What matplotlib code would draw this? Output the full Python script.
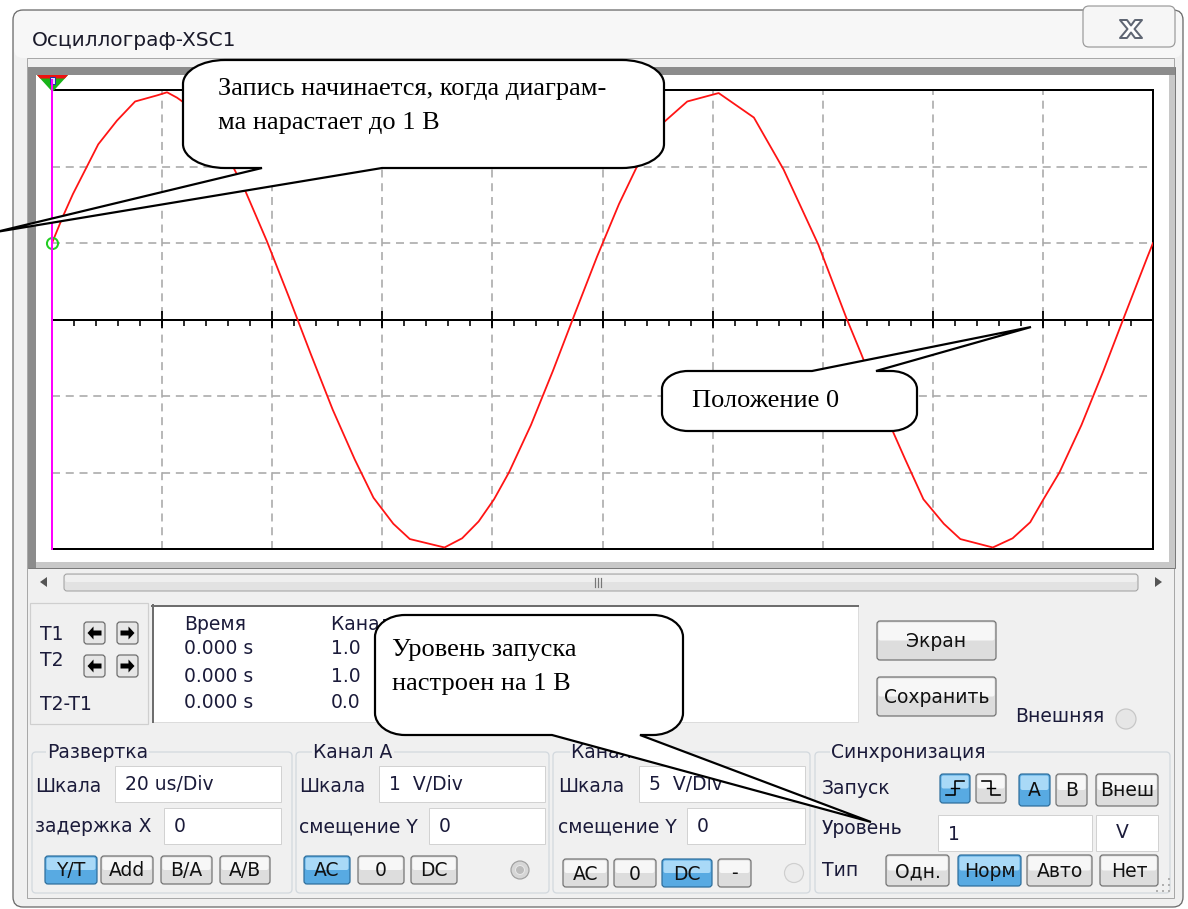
import matplotlib
matplotlib.use('Agg')
import matplotlib.pyplot as plt
from matplotlib.patches import Rectangle, FancyBboxPatch, Polygon, PathPatch, Circle
from matplotlib.path import Path
import numpy as np

plt.rcParams['font.family'] = ['DejaVu Sans']

W, H = 1188, 909
PANEL = '#f0f0f0'
TXT = '#1b1b3a'
UI_FS = 13.5
NOTE_FONT = 'Liberation Serif'

# channel A trace (time in us, voltage in V)
time_us = [0, 2, 3.8, 8.4, 11.8, 15.1, 19.1, 20.9, 22.7, 27, 31, 35, 39, 43, 47,
           51, 55, 58.4, 62, 65, 71.3, 74.5, 77.5, 80.3, 83, 87, 91, 95, 99, 103,
           107, 111, 115.4, 121.1, 127.5, 132.9, 139.2, 144.3, 147, 151, 155,
           158.3, 162, 165, 170.9, 174.5, 177.7, 180.1, 183, 187, 191, 195, 199, 200]
volts = [1.00, 1.35, 1.64, 2.29, 2.60, 2.85, 2.93, 2.97, 2.90, 2.68, 2.26, 1.70,
         1.03, 0.30, -0.45, -1.18, -1.83, -2.33, -2.67, -2.87, -2.98, -2.86, -2.64,
         -2.35, -2.00, -1.38, -0.67, 0.08, 0.82, 1.51, 2.11, 2.57, 2.85, 2.96, 2.64,
         1.96, 0.98, 0.02, -0.45, -1.18, -1.83, -2.35, -2.67, -2.87, -2.98, -2.86,
         -2.65, -2.35, -2.00, -1.38, -0.67, 0.08, 0.82, 1.00]

time_per_div = 20      # us
volt_per_div = 1       # V
n_xdiv, n_ydiv = 10, 6
trigger_level = 1.0

# cursor readout (channel A column is partly hidden behind the note)
cursor_rows = ['T1', 'T2', 'T2-T1']
readout_heads = ['Время', 'Канал A', 'Канал B']
readout_time = ['0.000 s', '0.000 s', '0.000 s']
readout_cha = ['1.0', '1.0', '0.0']

# control panel settings
timebase = '20 us/Div'
x_delay = '0'
cha_scale = '1  V/Div'
cha_offset = '0'
chb_scale = '5  V/Div'
chb_offset = '0'
trig_value = '1'
trig_unit = 'V'
mode_buttons = ['Y/T', 'Add', 'B/A', 'A/B']
cha_buttons = ['AC', '0', 'DC']
chb_buttons = ['AC', '0', 'DC', '-']
source_buttons = ['A', 'B', 'Внеш']
type_buttons = ['Одн.', 'Норм', 'Авто', 'Нет']

note_top = ['Запись начинается, когда диаграм-', 'ма нарастает до 1 В']
note_zero = 'Положение 0'
note_level = ['Уровень запуска', 'настроен на 1 В']


def lw(px):
    return px * 0.72


def box(ax, x0, y0, x1, y1, fc, ec, w=1.0, r=0, z=1):
    if r:
        p = FancyBboxPatch((x0, y0), x1 - x0, y1 - y0,
                           boxstyle=f'round,pad=0,rounding_size={r}',
                           fc=fc, ec=ec, lw=lw(w), zorder=z)
    else:
        p = Rectangle((x0, y0), x1 - x0, y1 - y0, fc=fc, ec=ec, lw=lw(w), zorder=z)
    ax.add_patch(p)


def button(ax, x0, x1, y0, y1, label, on=False):
    if on:
        top, bot, ec = '#a9d9f7', '#58aae2', '#2c6c9a'
    else:
        top, bot, ec = '#f7f7f7', '#dddddd', '#707070'
    box(ax, x0, y0, x1, y1, bot, ec, 1.2, 3, z=2)
    box(ax, x0 + 1.5, y0 + 1.5, x1 - 1.5, (y0 + y1) / 2, top, 'none', 0, 2, z=2)
    if label:
        ax.text((x0 + x1) / 2, (y0 + y1) / 2 + 1, label, ha='center', va='center',
                fontsize=UI_FS, color='#111111', zorder=3)


def field(ax, x0, x1, y0, y1, txt, ty=None):
    box(ax, x0, y0, x1, y1, 'white', '#d2d2d2', 1, z=2)
    ax.text(x0 + 10, (y0 + y1) / 2 if ty is None else ty, txt, va='center',
            fontsize=UI_FS, color=TXT, zorder=3)


def group(ax, x0, x1, y0, y1, label, lx):
    box(ax, x0, y0, x1, y1, 'none', '#d3d9de', 1.3, 4, z=1)
    ax.text(lx, y0, label, va='center', fontsize=UI_FS, color=TXT, zorder=3,
            bbox=dict(fc=PANEL, ec='none', pad=1))


def arrow_btn(ax, x0, y0, right):
    box(ax, x0, y0, x0 + 21, y0 + 22, '#e6e6e6', '#6a6a6a', 1.2, 3, z=2)
    cx, cy = x0 + 10.5, y0 + 11
    s = 1 if right else -1
    pts = [(7, 0), (1, -6.5), (1, -2.5), (-7, -2.5), (-7, 2.5), (1, 2.5), (1, 6.5)]
    ax.add_patch(Polygon([(cx + s * a, cy + b) for a, b in pts], fc='black', ec='none', zorder=3))


def callout(ax, x0, y0, x1, y1, rx, ry, side, b0, b1, tip):
    k = 0.55
    verts, codes = [], []

    def add(pts, code):
        for p in pts:
            verts.append(p)
            codes.append(code)

    add([(x0 + rx, y0)], Path.MOVETO)
    if side == 'top':
        add([(b0, y0), tip, (b1, y0)], Path.LINETO)
    add([(x1 - rx, y0)], Path.LINETO)
    add([(x1 - rx + k * rx, y0), (x1, y0 + ry - k * ry), (x1, y0 + ry)], Path.CURVE4)
    add([(x1, y1 - ry)], Path.LINETO)
    add([(x1, y1 - ry + k * ry), (x1 - rx + k * rx, y1), (x1 - rx, y1)], Path.CURVE4)
    if side == 'bottom':
        add([(b1, y1), tip, (b0, y1)], Path.LINETO)
    add([(x0 + rx, y1)], Path.LINETO)
    add([(x0 + rx - k * rx, y1), (x0, y1 - ry + k * ry), (x0, y1 - ry)], Path.CURVE4)
    add([(x0, y0 + ry)], Path.LINETO)
    add([(x0, y0 + ry - k * ry), (x0 + rx - k * rx, y0), (x0 + rx, y0)], Path.CURVE4)
    add([(x0 + rx, y0)], Path.CLOSEPOLY)
    ax.add_patch(PathPatch(Path(verts, codes), fc='white', ec='black', lw=lw(2.2),
                           joinstyle='miter', zorder=2, clip_on=False))


def pixel_axes(fig, z):
    a = fig.add_axes([0, 0, 1, 1], zorder=z)
    a.set_xlim(0, W)
    a.set_ylim(H, 0)
    a.axis('off')
    a.patch.set_alpha(0)
    return a


fig = plt.figure(figsize=(W / 100, H / 100), dpi=100, facecolor='white')

# ---- window and panel (background layer)
bg = pixel_axes(fig, 0)
box(bg, 13, 10, 1183, 907, PANEL, '#6c6c6c', 1.3, 10, z=0)
box(bg, 14, 11, 1182, 58, '#f7f7f7', 'none', 0, 9, z=0)
box(bg, 27, 58, 1174, 898, 'none', '#a8a8a8', 1, z=0)
bg.text(32, 40, 'Осциллограф-XSC1', va='center', fontsize=14.5, color='#1a1a2a')

# close button with an outlined X
box(bg, 1083, 6, 1175, 47, '#f6f6f6', '#9a9a9a', 1.2, 6)
cx, cy, ax_, ay_, d, c = 1131, 29, 11, 9, 7, 3.5
x_shape = [(-ax_, -ay_), (-ax_ + d, -ay_), (0, -c), (ax_ - d, -ay_), (ax_, -ay_), (c, 0),
           (ax_, ay_), (ax_ - d, ay_), (0, c), (-ax_ + d, ay_), (-ax_, ay_), (-c, 0)]
bg.add_patch(Polygon([(cx + a, cy + b) for a, b in x_shape], fc='white', ec='#5f6673',
                     lw=lw(2), joinstyle='round', zorder=3))

# screen frame
box(bg, 28, 67, 1175, 568, '#c8c8c8', '#7a7a7a', 1, z=1)
box(bg, 28, 67, 1175, 75, '#8c8c8c', 'none', 0, z=1)
box(bg, 28, 67, 36, 568, '#8c8c8c', 'none', 0, z=1)
box(bg, 36, 75, 1169, 562, 'white', 'none', 0, z=1)

# scrollbar
bg.add_patch(Polygon([(40, 582), (47, 577), (47, 587)], fc='#555555', ec='none'))
bg.add_patch(Polygon([(1162, 582), (1155, 577), (1155, 587)], fc='#555555', ec='none'))
box(bg, 64, 574, 1138, 591, '#e2e2e2', '#a0a0a0', 1, 3)
box(bg, 65, 575, 1137, 582, '#efefef', 'none', 0, 2)
for gx in (595, 598, 601):
    bg.plot([gx, gx], [578, 587], color='#777777', lw=lw(1.2), zorder=3)

# cursor section
box(bg, 30, 603, 148, 724, 'none', '#cfcfcf', 1.2)
for lbl, yy in zip(cursor_rows, [634, 660, 704]):
    bg.text(40, yy, lbl, va='center', fontsize=UI_FS, color=TXT)
for yy in (622, 655):
    arrow_btn(bg, 84, yy, False)
    arrow_btn(bg, 117, yy, True)

box(bg, 152, 605, 858, 722, 'white', '#dcdcdc', 1)
bg.plot([152, 858], [606, 606], color='#6e6e6e', lw=lw(2), zorder=2)
bg.plot([153, 153], [605, 722], color='#6e6e6e', lw=lw(2), zorder=2)
for lbl, xx in zip(readout_heads, [184, 331, 490]):
    bg.text(xx, 624, lbl, va='center', fontsize=UI_FS, color=TXT)
for i, yy in enumerate([649, 676, 702]):
    bg.text(184, yy, readout_time[i], va='center', fontsize=UI_FS, color=TXT)
    bg.text(331, yy, readout_cha[i], va='center', fontsize=UI_FS, color=TXT)

button(bg, 877, 996, 621, 660, 'Экран')
button(bg, 877, 996, 677, 716, 'Сохранить')
bg.text(1015, 717, 'Внешняя', va='center', fontsize=UI_FS, color=TXT)
bg.add_patch(Circle((1126, 719), 10, fc='#e6e6e6', ec='#c6c6c6', lw=lw(1.2)))

# timebase group
group(bg, 32, 292, 752, 893, 'Развертка', 47)
bg.text(35, 786, 'Шкала', va='center', fontsize=UI_FS, color=TXT)
field(bg, 115, 281, 766, 802, timebase)
bg.text(35, 827, 'задержка X', va='center', fontsize=UI_FS, color=TXT)
field(bg, 164, 281, 808, 844, x_delay)
for lbl, (a, b), on in zip(mode_buttons, [(45, 97), (101, 153), (161, 212), (220, 270)],
                           [True, False, False, False]):
    button(bg, a, b, 856, 884, lbl, on)

# channel A group
group(bg, 296, 549, 752, 893, 'Канал A', 313)
bg.text(299, 786, 'Шкала', va='center', fontsize=UI_FS, color=TXT)
field(bg, 379, 545, 766, 802, cha_scale)
bg.text(299, 827, 'смещение Y', va='center', fontsize=UI_FS, color=TXT)
field(bg, 429, 545, 808, 844, cha_offset)
for lbl, (a, b), on in zip(cha_buttons, [(304, 350), (358, 404), (411, 457)], [True, False, False]):
    button(bg, a, b, 856, 884, lbl, on)
bg.add_patch(Circle((520, 870), 9, fc='#d6d6d6', ec='#a0a0a0', lw=lw(1.2), zorder=2))
bg.add_patch(Circle((520, 870), 4.5, fc='#bcbcbc', ec='#e8e8e8', lw=lw(1), zorder=3))

# channel B group
group(bg, 553, 810, 752, 893, 'Канал B', 571)
bg.text(558, 786, 'Шкала', va='center', fontsize=UI_FS, color=TXT)
field(bg, 639, 805, 766, 802, chb_scale)
bg.text(558, 827, 'смещение Y', va='center', fontsize=UI_FS, color=TXT)
field(bg, 687, 805, 808, 844, chb_offset)
for lbl, (a, b), on in zip(chb_buttons, [(563, 608), (614, 656), (662, 712), (718, 751)],
                           [False, False, True, False]):
    button(bg, a, b, 859, 887, lbl, on)
bg.add_patch(Circle((794, 873), 9.5, fc='#ececec', ec='#cfcfcf', lw=lw(1.2), zorder=2))

# trigger group
group(bg, 815, 1170, 752, 893, 'Синхронизация', 831)
bg.text(822, 789, 'Запуск', va='center', fontsize=UI_FS, color=TXT)
button(bg, 940, 970, 774, 803, '', True)
button(bg, 976, 1006, 774, 803, '', False)
bg.plot([946, 955, 955, 964], [795, 795, 781, 781], color='black', lw=lw(1.6), zorder=4)
bg.plot([951, 959], [788, 788], color='black', lw=lw(1.4), zorder=4)
bg.plot([982, 991, 991, 1000], [781, 781, 795, 795], color='black', lw=lw(1.6), zorder=4)
bg.plot([987, 995], [788, 788], color='black', lw=lw(1.4), zorder=4)
for lbl, (a, b), on in zip(source_buttons, [(1019, 1050), (1056, 1087), (1096, 1158)],
                           [True, False, False]):
    button(bg, a, b, 774, 806, lbl, on)
bg.text(822, 829, 'Уровень', va='center', fontsize=UI_FS, color=TXT)
field(bg, 938, 1092, 815, 851, trig_value, ty=835)
box(bg, 1096, 815, 1158, 851, 'white', '#d2d2d2', 1, z=2)
bg.text(1116, 833, trig_unit, va='center', fontsize=UI_FS, color=TXT, zorder=3)
bg.text(822, 871, 'Тип', va='center', fontsize=UI_FS, color=TXT)
for lbl, (a, b), on in zip(type_buttons, [(886, 949), (958, 1021), (1027, 1092), (1100, 1158)],
                           [False, True, False, False]):
    button(bg, a, b, 855, 886, lbl, on)
for gx, gy in [(1168, 878), (1168, 884), (1162, 884), (1168, 890), (1162, 890), (1156, 890)]:
    bg.add_patch(Rectangle((gx, gy), 2, 2, fc='#b0b0b0', ec='none'))

# ---- oscilloscope screen
x0_px, x1_px, y0_px, y1_px = 52, 1153, 90, 549
sc = fig.add_axes([x0_px / W, 1 - y1_px / H, (x1_px - x0_px) / W, (y1_px - y0_px) / H], zorder=1)
sc.set_facecolor('white')
t_max = time_per_div * n_xdiv
v_max = volt_per_div * n_ydiv / 2
sc.set_xlim(0, t_max)
sc.set_ylim(-v_max, v_max)
sc.set_xticks(np.arange(0, t_max + 1, time_per_div))
sc.set_yticks(np.arange(-v_max, v_max + 0.5, volt_per_div))
sc.grid(True, color='#a8a8a8', ls=(0, (5, 3.6)), lw=lw(1.6))
sc.tick_params(length=0, labelbottom=False, labelleft=False)
for s in ['top', 'right', 'bottom']:
    sc.spines[s].set(color='black', lw=lw(2))
sc.spines['left'].set_visible(False)
sc.axhline(0, color='black', lw=lw(2), zorder=3)
sc.vlines(np.arange(0, t_max, time_per_div / 5), -0.085, 0, color='black', lw=lw(1.6), zorder=3)
sc.vlines(np.arange(time_per_div, t_max, time_per_div), -0.11, 0.11, color='black', lw=lw(1.8), zorder=3)
sc.plot(time_us, volts, color='#ff1414', lw=lw(1.8), zorder=4)

# ---- trigger cursor
mid = pixel_axes(fig, 2)
mid.plot([52, 52], [80, 549], color='#ff00ff', lw=lw(2))
mid.add_patch(Polygon([(37, 75), (68, 75), (52.5, 92)], fc='#19b319', ec='none'))
mid.add_patch(Polygon([(37, 75), (68, 75), (64.8, 78.5), (40.2, 78.5)], fc='#ee1111', ec='none'))
mid.add_patch(Rectangle((50, 77), 5, 7, fc='#dfe8ff', ec='#2233aa', lw=lw(1)))
sc.plot([0], [trigger_level], 'o', ms=8, mfc='none', mec='#22cc22', mew=lw(2), clip_on=False, zorder=5)

# ---- annotation callouts
top = pixel_axes(fig, 5)
callout(top, 183, 60, 664, 168, 42, 24, 'bottom', 262, 382, (-4, 232))
for line, yy in zip(note_top, [89, 123]):
    top.text(218, yy, line, va='center', fontsize=19, family=NOTE_FONT, color='black', zorder=3)

callout(top, 662, 371, 917, 431, 26, 18, 'top', 812, 876, (1031, 327))
top.text(692, 401, note_zero, va='center', fontsize=19, family=NOTE_FONT, color='black', zorder=3)

callout(top, 375, 615, 683, 735, 30, 22, 'bottom', 552, 640, (871, 822))
for line, yy in zip(note_level, [650, 684]):
    top.text(392, yy, line, va='center', fontsize=19, family=NOTE_FONT, color='black', zorder=3)

fig.savefig('out.png', dpi=100)
